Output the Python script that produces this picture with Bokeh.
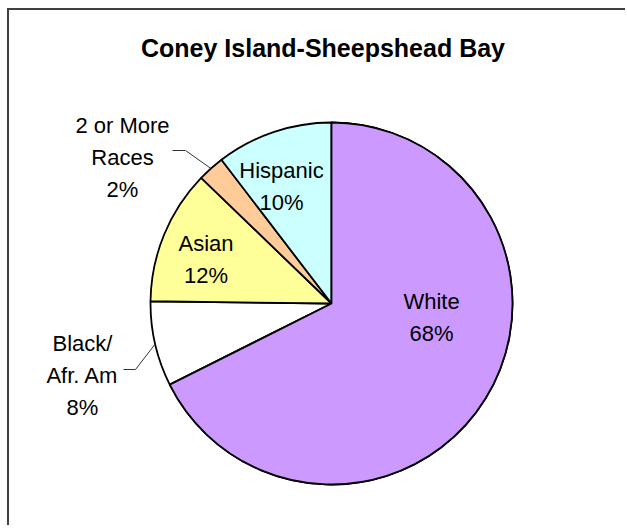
import numpy as np
from bokeh.plotting import figure
from bokeh.models import ColumnDataSource, CDSView, IndexFilter, Label
from bokeh.embed import file_html
from bokeh.resources import INLINE
from bokeh.core.properties import value

# ---- data ----
title = "Coney Island-Sheepshead Bay"
categories = ["White", "Black/\nAfr. Am", "Asian", "2 or More\nRaces", "Hispanic"]
shares = [67.6, 7.6, 12.0, 2.4, 10.4]
colors = ["#CC99FF", "#FFFFFF", "#FFFF99", "#FFCC99", "#CCFFFF"]

# ---- layout ----
W, H = 618, 517
OX, OY = 9, 10  # page position of the canvas origin


def sx(x):
    return x - OX


def sy(y):
    return H + OY - y


CX, CY, R = sx(331), sy(303), 181
# label anchor: centre x, first baseline y (page pixels)
label_anchor = [(431, 301), (82, 343), (205.5, 243), (122, 125), (281, 170)]
LINE_GAP = 32
# leader lines (page pixels): label end, knee ; None = no leader
leaders = [None, ((123, 369), (135, 369)), None, ((172, 150), (185, 150)), None]

frac = np.array(shares) / sum(shares)
cum = np.concatenate([[0.0], np.cumsum(frac)])
start = np.pi / 2 - 2 * np.pi * cum[:-1]
end = np.pi / 2 - 2 * np.pi * cum[1:]
mid = (start + end) / 2

src = ColumnDataSource(dict(cat=categories, share=shares, color=colors,
                            start=start, end=end))

p = figure(width=W, height=H, x_range=(0, W), y_range=(0, H),
           output_backend="svg", toolbar_location=None, tools="",
           min_border=0, x_axis_location=None, y_axis_location=None)
p.grid.visible = False
p.outline_line_color = None
p.background_fill_color = "white"
p.border_fill_color = "white"
p.styles = {"border-left": "2px solid #404040", "border-top": "2px solid #404040",
            "margin-left": "7px", "margin-top": "8px"}

p.wedge(x=CX, y=CY, radius=R, start_angle="start", end_angle="end",
        direction="clock", fill_color="color", line_color="black",
        line_width=1.8, source=src)

# label texts
tx, ty, tt, owner = [], [], [], []
for i, (cat, sh) in enumerate(zip(categories, shares)):
    lines = cat.split("\n") + [f"{int(round(sh))}%"]
    ax, ay = label_anchor[i]
    for k, ln in enumerate(lines):
        tx.append(sx(ax))
        ty.append(sy(ay + k * LINE_GAP))
        tt.append(ln)
        owner.append(i)

others = ColumnDataSource(dict(x=[a for a, o in zip(tx, owner) if o != 0],
                               y=[b for b, o in zip(ty, owner) if o != 0],
                               t=[c for c, o in zip(tt, owner) if o != 0]))
white = ColumnDataSource(dict(x=[a for a, o in zip(tx, owner) if o == 0],
                              y=[b for b, o in zip(ty, owner) if o == 0],
                              t=[c for c, o in zip(tt, owner) if o == 0]))

txt_kw = dict(text_align="center", text_baseline="alphabetic",
              text_font=value("Liberation Sans"), text_font_size="22px",
              text_color="black")
p.text(x="x", y="y", text="t", source=others, **txt_kw)

# redraw the dominant slice on top (it clips neighbouring text)
p.wedge(x=CX, y=CY, radius=R, start_angle="start", end_angle="end",
        direction="clock", fill_color="color", line_color="black",
        line_width=1.8, source=src, view=CDSView(filter=IndexFilter([0])))
p.text(x="x", y="y", text="t", source=white, **txt_kw)

# leader lines
for i, ld in enumerate(leaders):
    if ld is None:
        continue
    (x0, y0), (x1, y1) = ld
    ex = CX + R * np.cos(mid[i])
    ey = CY + R * np.sin(mid[i])
    p.line([sx(x0), sx(x1), ex], [sy(y0), sy(y1), ey],
           line_color="#333333", line_width=1)

p.add_layout(Label(x=sx(322.5), y=sy(47), text=title, text_align="center",
                   text_baseline="alphabetic", text_font="Liberation Sans",
                   text_font_style="bold", text_font_size="25px",
                   text_color="black"))

open("out.html", "w").write(file_html(p, INLINE))
